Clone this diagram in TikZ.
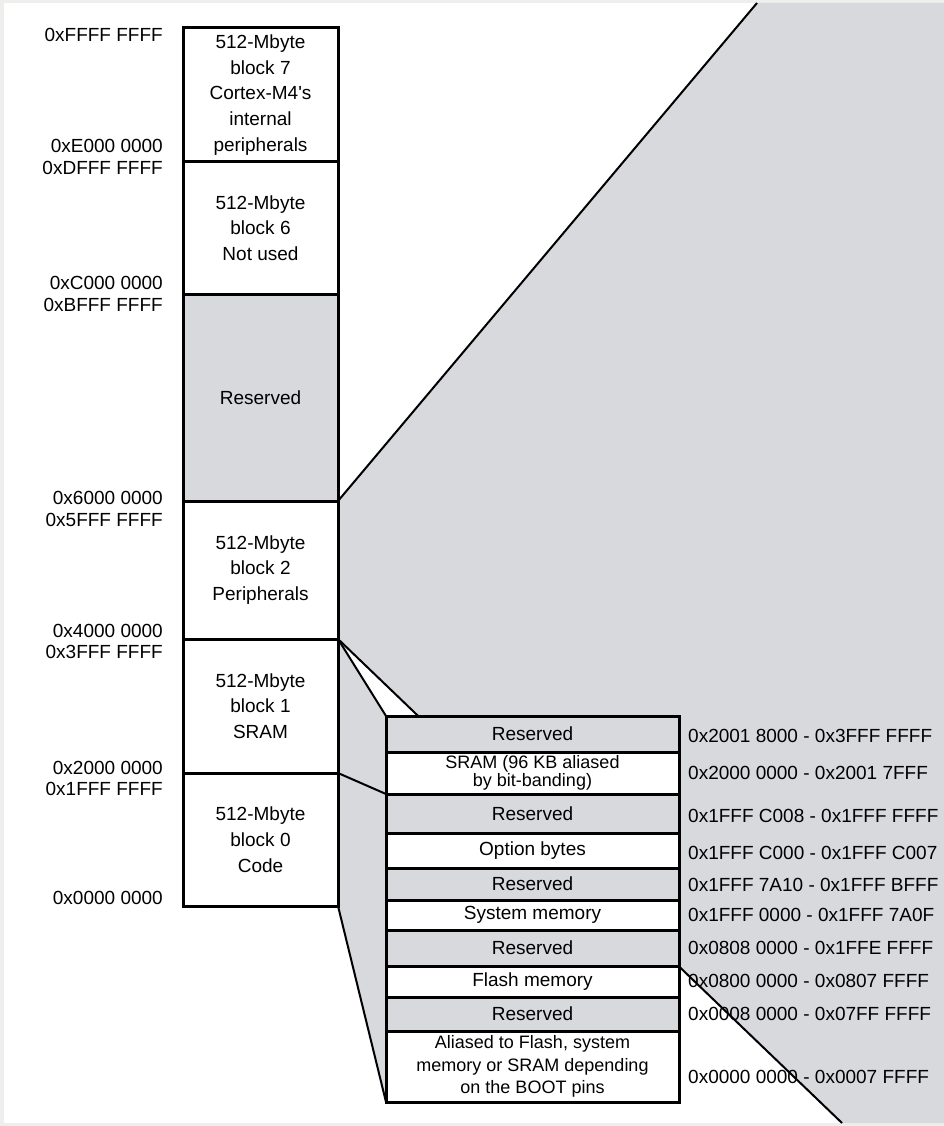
\documentclass[tikz,border=0pt]{standalone}
\usepackage{fontspec}
\setmainfont{Liberation Sans}
\usetikzlibrary{positioning}
\definecolor{resgray}{RGB}{216,217,221}
\definecolor{framegray}{RGB}{238,238,236}
\newcommand\memfont{\fontsize{19}{25.7}\selectfont}
\pgfdeclarelayer{frame}
\pgfdeclarelayer{background}
\pgfsetlayers{frame,background,main}

\begin{document}
\begin{tikzpicture}[x=1pt, y=-1pt,
    every node/.style={font=\memfont},
    blk/.style={draw, line width=3pt, fill=white, minimum width=155pt,
        inner sep=0pt, outer sep=0pt, align=center, anchor=north west},
    row/.style={draw, line width=3pt, fill=white, minimum width=293pt,
        inner sep=0pt, outer sep=0pt, align=center, anchor=north west},
    rsv/.style={fill=resgray},
    lbl/.style={anchor=east, inner sep=0pt},
    addr/.style={anchor=west, inner sep=0pt},
    link/.style={line width=2pt}
]
    % frame of the page
    \begin{pgfonlayer}{frame}
        \fill[framegray] (0,0) rectangle (944,1126);
        \fill[white] (4,3) rectangle (944,1123);
    \end{pgfonlayer}
    \useasboundingbox (0,0) rectangle (944,1126);

    % 512-Mbyte blocks
    \node[blk, minimum height=134pt] (blk7) at (183,28)
        {512-Mbyte\\block 7\\Cortex-M4\textquotesingle s\\internal\\peripherals};
    \node[blk, minimum height=132pt] (blk6) at (183,162)
        {512-Mbyte\\block 6\\Not used};
    \node[blk, rsv, minimum height=207pt] (blk35) at (183,294) {Reserved};
    \node[blk, minimum height=138pt] (blk2) at (183,501)
        {512-Mbyte\\block 2\\Peripherals};
    \node[blk, minimum height=134pt] (blk1) at (183,639)
        {512-Mbyte\\block 1\\SRAM};
    \node[blk, minimum height=133pt] (blk0) at (183,773)
        {512-Mbyte\\block 0\\Code};

    % block boundaries
    \node[lbl] (aFFFF) at (163,35) {0xFFFF FFFF};
    \node[lbl] (aE000) at (163,146) {0xE000 0000};
    \node[lbl] (aDFFF) at (163,168) {0xDFFF FFFF};
    \node[lbl] (aC000) at (163,283) {0xC000 0000};
    \node[lbl] (aBFFF) at (163,305) {0xBFFF FFFF};
    \node[lbl] (a6000) at (163,498) {0x6000 0000};
    \node[lbl] (a5FFF) at (163,520) {0x5FFF FFFF};
    \node[lbl] (a4000) at (163,631) {0x4000 0000};
    \node[lbl] (a3FFF) at (163,652) {0x3FFF FFFF};
    \node[lbl] (a2000) at (163,768) {0x2000 0000};
    \node[lbl] (a1FFF) at (163,789) {0x1FFF FFFF};
    \node[lbl] (a0000) at (163,898) {0x0000 0000};

    % detail of blocks 0 and 1
    \node[row, rsv, minimum height=36pt] (rsv4) at (386,716) {Reserved};
    \node[row, minimum height=42pt, font=\fontsize{18}{15}\selectfont] (sram) at (386,752)
        {SRAM (96 KB aliased\\by bit-banding)};
    \node[row, rsv, minimum height=39pt] (rsv3) at (386,794) {Reserved};
    \node[row, minimum height=35pt] (optb) at (386,833) {Option bytes};
    \node[row, rsv, minimum height=32pt] (rsv2) at (386,868) {Reserved};
    \node[row, minimum height=30pt] (sysmem) at (386,900) {System memory};
    \node[row, rsv, minimum height=36pt] (rsv1) at (386,930) {Reserved};
    \node[row, minimum height=31pt] (flash) at (386,966) {Flash memory};
    \node[row, rsv, minimum height=34pt] (rsv0) at (386,997) {Reserved};
    \node[row, minimum height=71pt, font=\fontsize{18}{22.5}\selectfont] (boot) at (386,1031)
        {Aliased to Flash, system\\memory or SRAM depending\\on the BOOT pins};

    \node[addr] (d4) at (688,736) {0x2001 8000 - 0x3FFF FFFF};
    \node[addr] (d9) at (688,773) {0x2000 0000 - 0x2001 7FFF};
    \node[addr] (d3) at (688,816) {0x1FFF C008 - 0x1FFF FFFF};
    \node[addr] (d8) at (688,853) {0x1FFF C000 - 0x1FFF C007};
    \node[addr] (d2) at (688,885) {0x1FFF 7A10 - 0x1FFF BFFF};
    \node[addr] (d7) at (688,915) {0x1FFF 0000 - 0x1FFF 7A0F};
    \node[addr] (d1) at (688,948) {0x0808 0000 - 0x1FFE FFFF};
    \node[addr] (d6) at (688,981) {0x0800 0000 - 0x0807 FFFF};
    \node[addr] (d0) at (688,1014) {0x0008 0000 - 0x07FF FFFF};
    \node[addr] (d5) at (688,1077) {0x0000 0000 - 0x0007 FFFF};

    \coordinate (ptop) at (757,3);
    \coordinate (pbot) at (842,1123);

    % expansions behind the boxes
    \begin{pgfonlayer}{background}
        \fill[resgray] (blk2.north east) -- (ptop) -- (944,3) -- (944,1123)
            -- (pbot) -- (blk2.south east) -- cycle;
        \fill[resgray] (blk1.north east) -- (rsv4.north west)
            -- (boot.south west) -- (blk0.south east) -- cycle;
        \draw[link] (blk2.south east) -- (pbot);
    \end{pgfonlayer}

    \draw[link] (blk2.north east) -- (ptop);
    \draw[link] (blk1.north east) -- (rsv4.north west);
    \draw[link] (blk0.north east) -- (sram.south west);
    \draw[link] (blk0.south east) -- (boot.south west);
\end{tikzpicture}
\end{document}
